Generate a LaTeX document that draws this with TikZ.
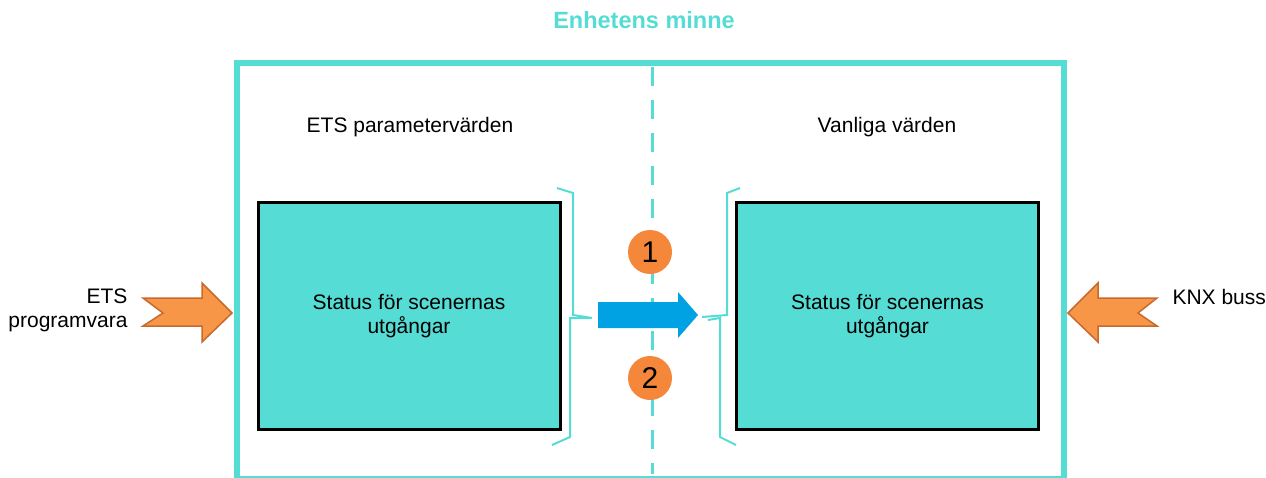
\documentclass[tikz,border=0pt]{standalone}
\usepackage{fontspec}
\setmainfont{Liberation Sans}
\usepackage{xcolor}

\definecolor{turq}{HTML}{55DDD5}
\definecolor{orng}{HTML}{F79646}
\definecolor{orngdk}{HTML}{C8692E}
\definecolor{dotorng}{HTML}{F5873A}
\definecolor{blu}{HTML}{00A2E3}

\tikzset{
  membox/.style={draw=black, line width=3pt, fill=turq, minimum width=302pt,
    minimum height=227pt, align=center},
  stepdot/.style={circle, fill=dotorng, minimum size=44pt, inner sep=0pt,
    font=\fontsize{30}{30}\selectfont},
  brace/.style={turq, line width=2pt},
  inarrow/.style={fill=orng, draw=orngdk, line width=1.5pt, line join=miter}
}

\begin{document}
\begin{tikzpicture}[x=1pt, y=-1pt, font=\fontsize{21}{24}\selectfont]
  \useasboundingbox (0,0) rectangle (1266,477);

  \node [turq, font=\fontsize{23.5}{26}\selectfont\bfseries] (title) at (644,20) {Enhetens minne};
  \draw [turq, line width=6pt] (237,63) rectangle (1064,479);
  \draw [turq, line width=3pt, dash pattern=on 19pt off 14pt] (652,67) -- (652,474);

  \node (lhead) at (410,127) {ETS parametervärden};
  \node (rhead) at (887,127) {Vanliga värden};

  \node [membox] (ets) at (409,316) {Status för scenernas\\utgångar};
  \node [membox] (knx) at (887.5,316) {Status för scenernas\\utgångar};

  \draw [brace] (557,188) -- (573,193) -- (573,315) -- (592,318)
                (590,318) -- (570,318) -- (570,437) -- (552,445);
  \draw [brace] (740,188) -- (727,193) -- (727,315) -- (702,317)
                (708,320) -- (720,318) -- (720,437) -- (736,445);

  \fill [blu] (598,302) -- (678,302) -- (678,292) -- (698,315) -- (678,338)
              -- (678,328) -- (598,328) -- cycle;

  \node [stepdot] (one) at (650,252) {1};
  \node [stepdot] (two) at (650,378) {2};

  \draw [inarrow] (143,298) -- (202,298) -- (202,283) -- (232,313) -- (202,342)
                  -- (202,326) -- (143,326) -- (163,313) -- cycle;
  \draw [inarrow] (1157,298) -- (1098,298) -- (1098,283) -- (1068,313) -- (1098,342)
                  -- (1098,326) -- (1157,326) -- (1138,313) -- cycle;

  \node [anchor=east, align=right] (soft) at (131,310) {ETS\\programvara};
  \node [anchor=west] (bus) at (1169,297) {KNX buss};
\end{tikzpicture}
\end{document}
